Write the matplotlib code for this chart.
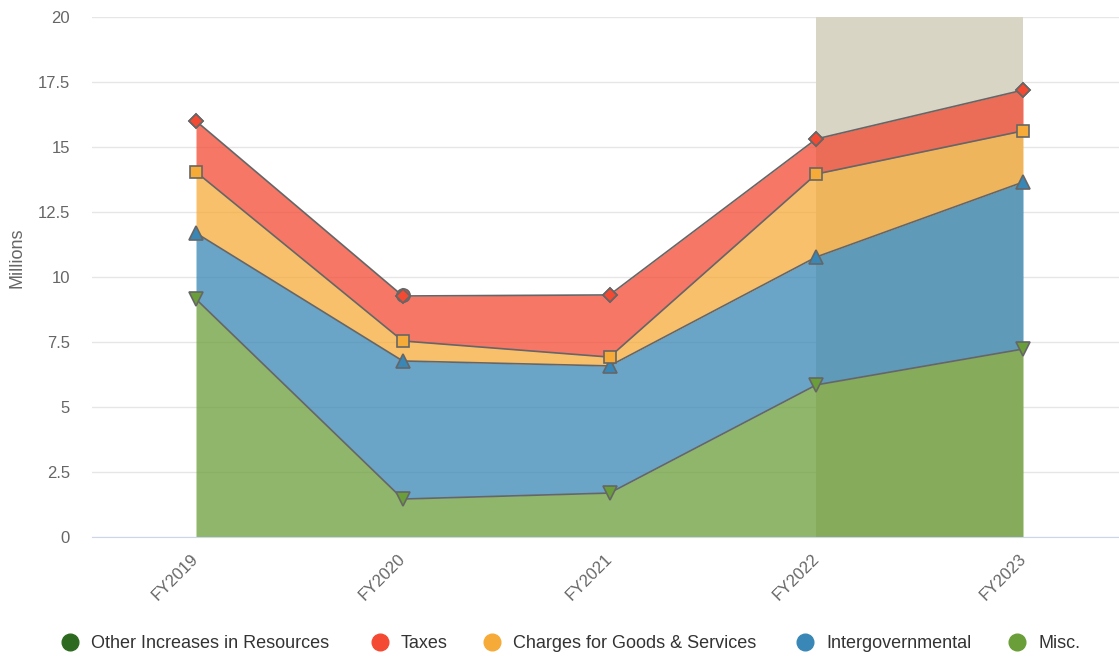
import matplotlib
matplotlib.use("Agg")
import matplotlib.pyplot as plt
import matplotlib.transforms as mtransforms
import numpy as np

plt.rcParams['font.family'] = ['Liberation Sans', 'DejaVu Sans']

categories = ["FY2019", "FY2020", "FY2021", "FY2022", "FY2023"]
misc = [9.15, 1.46, 1.69, 5.85, 7.23]
intergovernmental = [2.54, 5.31, 4.89, 4.92, 6.42]
charges = [2.35, 0.77, 0.34, 3.19, 1.97]
taxes = [1.96, 1.73, 2.39, 1.35, 1.57]
other_increases = [None, 0.02, None, None, None]

series_names = ["Other Increases in Resources", "Taxes", "Charges for Goods & Services",
                "Intergovernmental", "Misc."]
series_colors = ["#2d6a1f", "#f44a33", "#f6ab39", "#3887b6", "#6a9e38"]

band_start, band_end = 3, 4
y_ticks = [0, 2.5, 5, 7.5, 10, 12.5, 15, 17.5, 20]
y_labels = ["0", "2.5", "5", "7.5", "10", "12.5", "15", "17.5", "20"]

W, H = 1119, 656
fig = plt.figure(figsize=(W / 100, H / 100), dpi=100)
ax = fig.add_axes([92 / W, (H - 537) / H, (W - 92) / W, 520 / H])

x = np.arange(len(categories))
ax.set_xlim(-0.503, 4.464)
ax.set_ylim(0, 20)

# shaded period behind the areas
ax.axvspan(band_start, band_end, color="#d8d5c5", zorder=0.5, lw=0)

for t in y_ticks:
    ax.axhline(t, color="#e6e6e6", lw=1, zorder=0.2)

# stacked areas, bottom to top
stack = [
    (misc, "#6a9e38", "v", 10),
    (intergovernmental, "#3887b6", "^", 10),
    (charges, "#f6ab39", "s", 9),
    (taxes, "#f44a33", "D", 7),
]
base = np.zeros(len(categories))
z = 2
for vals, col, mk, ms in stack:
    top = base + np.array(vals, dtype=float)
    ax.fill_between(x, base, top, color=col, alpha=0.75, lw=0, zorder=z)
    ax.plot(x, top, color="#666666", lw=1.2, zorder=z + 10)
    ax.plot(x, top, ls="none", marker=mk, ms=ms, mfc=col, mec="#666666", mew=1.2, zorder=z + 20)
    base = top
    z += 1

# other increases: only points that carry a value
oi_x = [i for i, v in enumerate(other_increases) if v is not None]
oi_y = [base[i] + other_increases[i] for i in oi_x]
ax.plot(oi_x, oi_y, ls="none", marker="o", ms=9.5, mfc="#f44a33", mec="#666666", mew=1.2, zorder=25)
# taxes markers on top of the circle
ax.plot(x, base, ls="none", marker="D", ms=7, mfc="#f44a33", mec="#666666", mew=1.2, zorder=30)

for s in ["top", "right", "left"]:
    ax.spines[s].set_visible(False)
ax.spines["bottom"].set_color("#ccd6eb")
ax.spines["bottom"].set_zorder(40)

ax.set_yticks(y_ticks)
ax.set_yticklabels(y_labels)
ax.tick_params(axis="y", length=0, colors="#666666", labelsize=12, pad=16)
ax.set_xticks(x)
ax.set_xticklabels(categories, rotation=45, ha="right", va="top", rotation_mode="anchor")
ax.tick_params(axis="x", length=0, colors="#666666", labelsize=12, pad=8)
offset = mtransforms.ScaledTranslation(-5 / 100, -3 / 100, fig.dpi_scale_trans)
for lbl in ax.get_xticklabels():
    lbl.set_transform(lbl.get_transform() + offset)

fig.text(17 / W, (H - 258) / H, "Millions", rotation=90, ha="center", va="center",
         color="#666666", fontsize=13)

# legend row
legend_y = (H - 642) / H
circle_x = [70, 380, 492, 805, 1017]
for cx, name, col in zip(circle_x, series_names, series_colors):
    fig.lines.append(plt.Line2D([cx / W], [legend_y], transform=fig.transFigure, ls="none",
                                marker="o", ms=12, mfc=col, mec=col))
    fig.text((cx + 21) / W, legend_y - 2 / H, name, ha="left", va="center",
             fontsize=13, color="#333333")

fig.savefig("out.png", dpi=100)
